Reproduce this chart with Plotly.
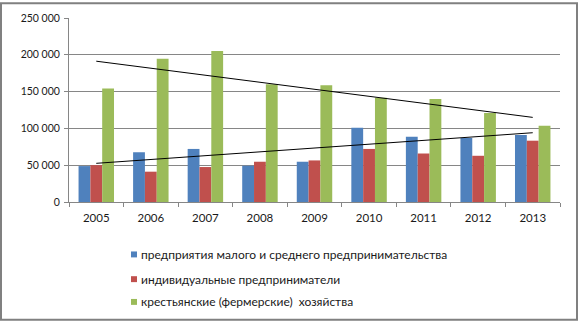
import numpy as np
import plotly.graph_objects as go

years = ["2005", "2006", "2007", "2008", "2009", "2010", "2011", "2012", "2013"]
small_medium = [48800, 67600, 72100, 49300, 54700, 100800, 88700, 87000, 91000]
individual = [50100, 41200, 47500, 54700, 56500, 72100, 65900, 62800, 83300]
farms = [154200, 194500, 205200, 160000, 158600, 141500, 139800, 121000, 103500]

names = [
    "предприятия малого и среднего предпринимательства",
    "индивидуальные предприниматели",
    "крестьянские (фермерские)  хозяйства",
]
colors = ["#4F81BD", "#C0504D", "#9BBB59"]
series = [small_medium, individual, farms]

W, H = 578, 322
L, R, T, B = 69, 18, 16, 120
pw, ph = W - L - R, H - T - B

def px_x(x):
    return (x - L) / pw

def px_y(y):
    return (H - B - y) / ph

fig = go.Figure()
for name, col, vals in zip(names, colors, series):
    fig.add_trace(go.Bar(x=years, y=vals, name=name, marker_color=col,
                         marker_line_width=0, showlegend=False))

# linear trend lines for first and third series
idx = np.arange(len(years))
for vals in (small_medium, farms):
    k, b = np.polyfit(idx, vals, 1)
    fig.add_trace(go.Scatter(x=[years[0], years[-1]], y=[b, k * idx[-1] + b],
                             mode="lines", line=dict(color="black", width=1),
                             showlegend=False, hoverinfo="skip"))

shapes = []
annotations = []
legend_rows = [255, 280, 303]
for name, col, yy in zip(names, colors, legend_rows):
    shapes.append(dict(type="rect", xref="paper", yref="paper",
                       x0=px_x(131), x1=px_x(137), y0=px_y(yy + 3), y1=px_y(yy - 3),
                       fillcolor=col, line=dict(width=0)))
    annotations.append(dict(text=name, xref="paper", yref="paper",
                            x=px_x(139), y=px_y(yy), xanchor="left", yanchor="middle",
                            showarrow=False, font=dict(size=12, color="#1a1a1a")))

# outer border
shapes.append(dict(type="rect", xref="paper", yref="paper",
                   x0=px_x(1), x1=px_x(577), y0=px_y(321), y1=px_y(1),
                   line=dict(color="#808080", width=2)))

fig.update_layout(
    width=W, height=H,
    margin=dict(l=L, r=R, t=T, b=B),
    paper_bgcolor="white", plot_bgcolor="white",
    barmode="group", bargap=0.35, bargroupgap=0,
    separators=". ",
    font=dict(family="Lato, Carlito, Arial", size=11.5, color="#1a1a1a"),
    shapes=shapes, annotations=annotations,
)
fig.update_xaxes(type="category", showline=True, linecolor="#868686", linewidth=1,
                 ticks="outside", tickson="boundaries", ticklen=4, tickcolor="#868686",
                 showgrid=False, tickfont=dict(size=11.5), ticklabelstandoff=5)
fig.update_yaxes(range=[0, 250000], tickvals=[0, 50000, 100000, 150000, 200000, 250000],
                 tickformat=",d", showline=True, linecolor="#868686", linewidth=1,
                 ticks="outside", ticklen=4, tickcolor="#868686",
                 showgrid=True, gridcolor="#868686", gridwidth=1, zeroline=False,
                 tickfont=dict(size=10.5), ticklabelstandoff=2)

fig.write_html("out.html")
